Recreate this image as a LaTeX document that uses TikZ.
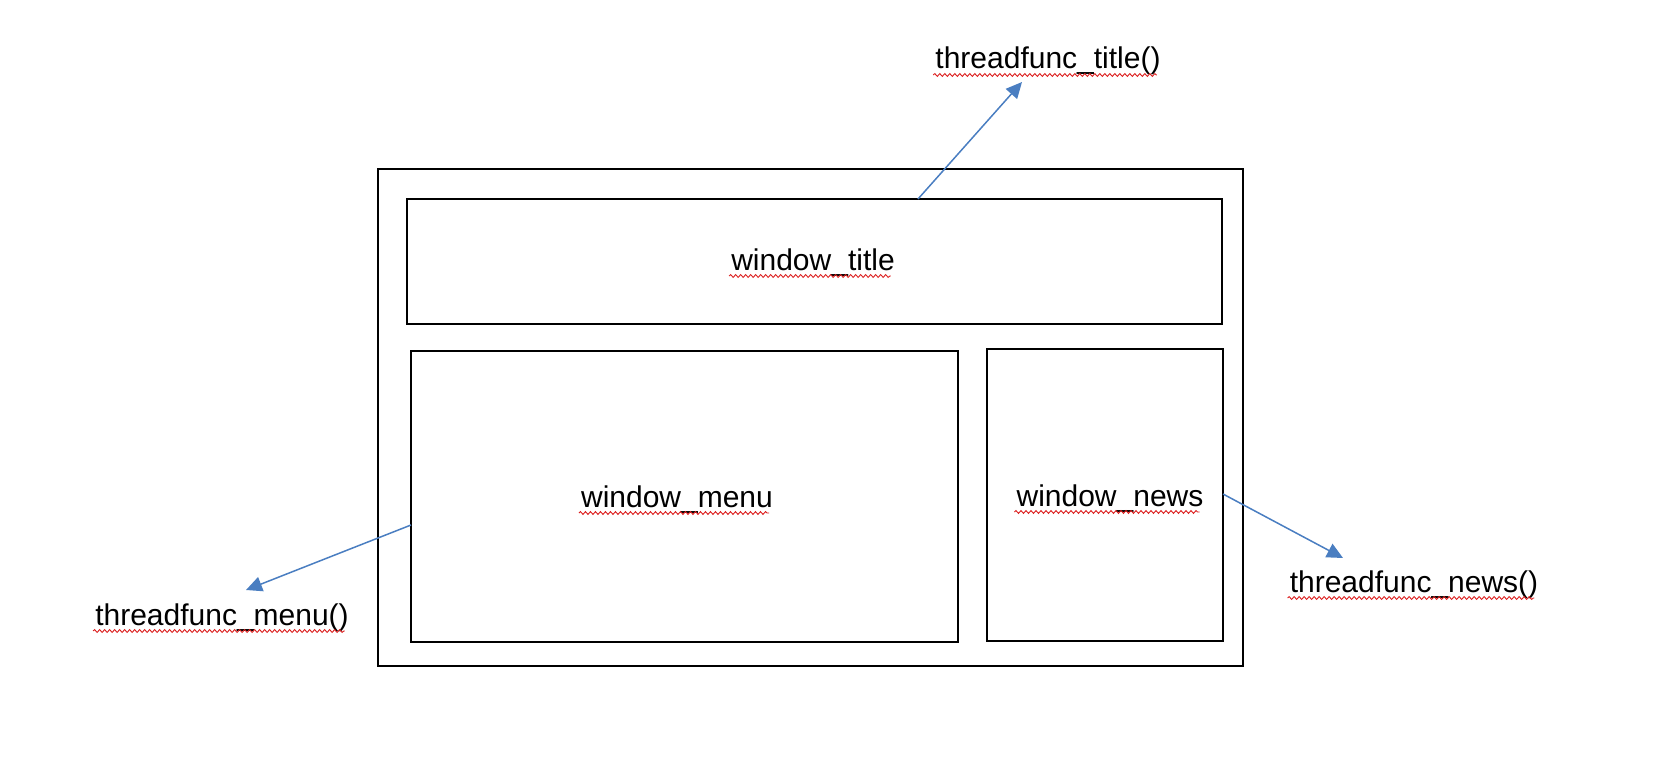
\documentclass[tikz,border=0pt]{standalone}
\usepackage{fontspec}
\setmainfont{Liberation Sans}
\usetikzlibrary{arrows.meta,decorations.pathmorphing}
\definecolor{arrowblue}{RGB}{74,126,193}
\definecolor{squig}{RGB}{220,30,30}
\tikzset{
  box/.style={draw=black, line width=1.8pt, inner sep=0pt, outer sep=0pt, anchor=north west},
  lbl/.style={inner sep=0pt, anchor=base, font=\fontsize{30}{34}\selectfont},
  conn/.style={draw=arrowblue, line width=1.5pt, -{Triangle[length=16pt,width=15pt]}},
  squiggle/.style={draw=squig, line width=0.9pt, decorate, decoration={snake, amplitude=1.4pt, segment length=5pt}}
}
\begin{document}
\begin{tikzpicture}[x=1pt,y=-1pt]
\useasboundingbox (0,0) rectangle (1680,770);
% boxes
\node[box, minimum width=865pt, minimum height=497pt] (outer) at (378,169) {};
\node[box, minimum width=815pt, minimum height=125pt] (tbox) at (407,199) {};
\node[box, minimum width=547pt, minimum height=291pt] (mbox) at (411,351) {};
\node[box, minimum width=236pt, minimum height=292pt] (nbox) at (987,349) {};
% connector ends
\coordinate (tstart) at (918,199);
\coordinate (mstart) at (411,525);
\coordinate (nstart) at (1223,494);
% labels
\node[lbl] (wtitle) at (813,270) {window\_title};
\node[lbl] (wmenu) at (677,507) {window\_menu};
\node[lbl] (wnews) at (1110,506) {window\_news};
\node[lbl] (ftitle) at (1048,69) {threadfunc\_title()};
\node[lbl] (fmenu) at (222,625) {threadfunc\_menu()};
\node[lbl] (fnews) at (1414,592) {threadfunc\_news()};
\coordinate (ttip) at (1022,82);
\coordinate (mtip) at (246,590);
\coordinate (ntip) at (1343,558);
% squiggles
\foreach \n in {wtitle,wmenu,wnews,ftitle,fmenu,fnews}{
  \draw[squiggle] ([yshift=-6pt,xshift=-2pt]\n.base west) -- ([yshift=-6pt,xshift=-4pt]\n.base east);
}
% connectors
\draw[conn] (tstart) -- (ttip);
\draw[conn] (mstart) -- (mtip);
\draw[conn] (nstart) -- (ntip);
\end{tikzpicture}
\end{document}
